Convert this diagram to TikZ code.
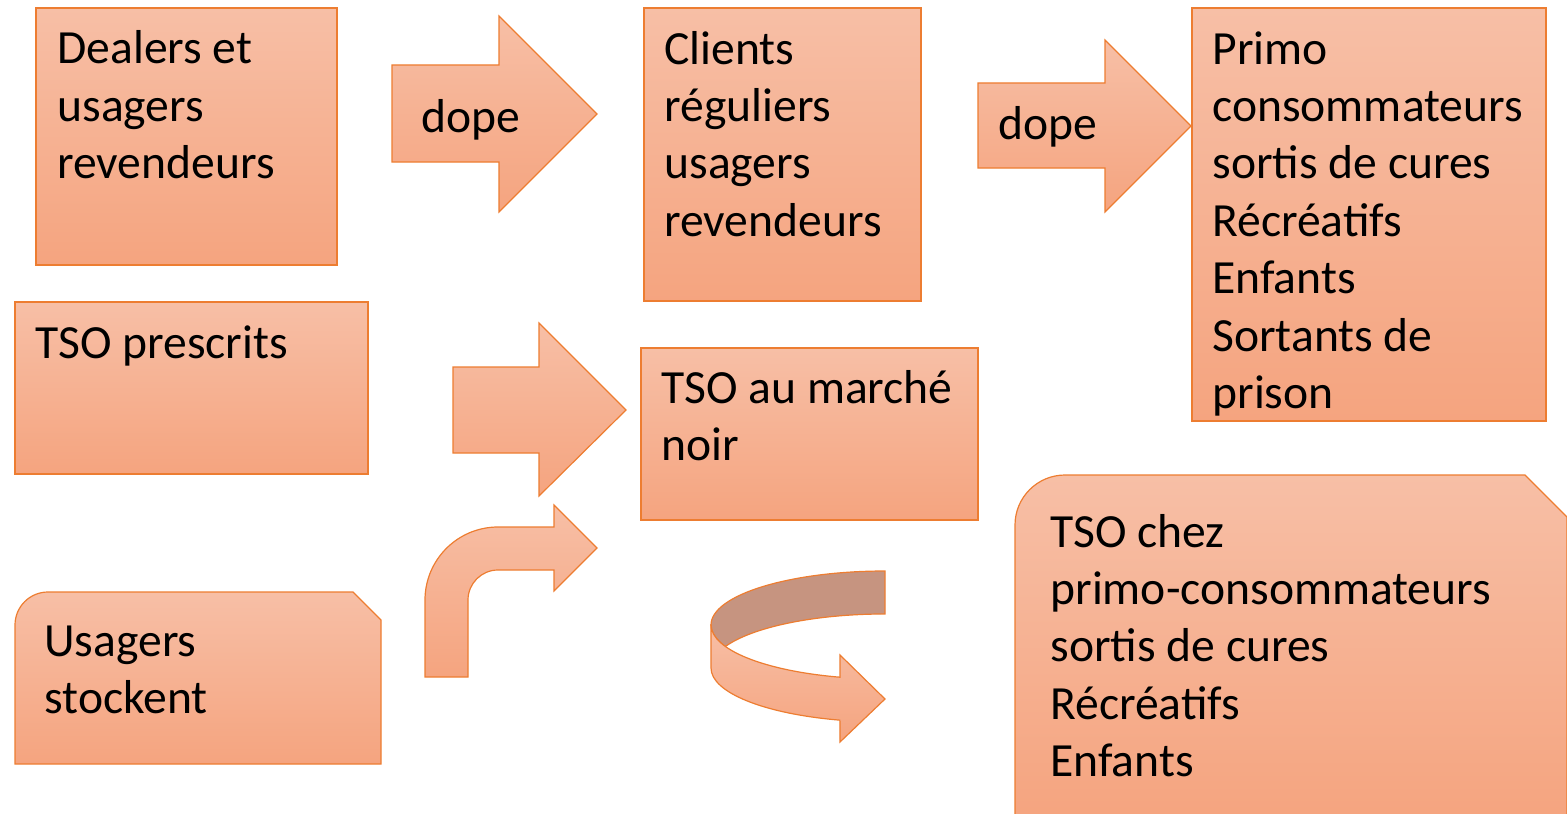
\documentclass[tikz,border=0pt]{standalone}
\usepackage{fontspec}
\setmainfont{Carlito}
\definecolor{boxline}{HTML}{ED7D31}
\definecolor{boxtop}{HTML}{F7BFA6}
\definecolor{boxbottom}{HTML}{F5A47F}
\definecolor{backside}{HTML}{C69480}
\begin{document}
\begin{tikzpicture}[x=0.5pt,y=-0.5pt]

    \tikzset{
      block/.style={
        draw=boxline,
        line width=0.6pt,
        top color=boxtop,
        bottom color=boxbottom,
      },
      boxtext/.style={
        anchor=base west,
        align=left,
        inner sep=0pt,
        font=\fontsize{23.8}{28.7}\selectfont,
      },
    }
    \clip (0,0) rectangle (1567,813);
    % boxes
	\draw[block] (36,8) rectangle (337,265);
	\draw[block] (644,8) rectangle (921,301);
	\draw[block] (1192,8) rectangle (1546,421);
	\draw[block] (15,302) rectangle (368,474);
	\draw[block] (641,348) rectangle (978,520);
	\draw[block] (15,764) -- (15,625) arc[start angle=180, end angle=270, radius=33] -- (353,592) -- (381,620) -- (381,764) -- cycle;
	\draw[block] (1015,820) -- (1015,525) arc[start angle=180, end angle=270, radius=50] -- (1525,475) -- (1567,517) -- (1567,820) -- cycle;
    % arrows
	\draw[block] (392,65) -- (499,65) -- (499,16) -- (597,114) -- (499,212) -- (499,162) -- (392,162) -- cycle;
	\draw[block] (978,83) -- (1105,83) -- (1105,40) -- (1191,126) -- (1105,212) -- (1105,168) -- (978,168) -- cycle;
	\draw[block] (453,367) -- (539,367) -- (539,323) -- (626,410) -- (539,496) -- (539,453) -- (453,453) -- cycle;
	\draw[block] (425,677) -- (425,600) arc[start angle=180, end angle=270, radius=73] -- (554,527) -- (554,505) -- (597,548) -- (554,591) -- (554,570) -- (498,570) arc[start angle=270, end angle=180, radius=30] -- (468,677) -- cycle;
	\draw[draw=boxline, line width=0.6pt, fill=backside] (885,571) arc[start angle=-90, end angle=-180, x radius=174, y radius=54] arc[start angle=180, end angle=156.55, x radius=174, y radius=54] arc[start angle=-156.55, end angle=-90, x radius=174, y radius=54] -- cycle;
	\draw[block] (711,625) -- (711,668) arc[start angle=180, end angle=105.03, x radius=174, y radius=54] -- (840,742) -- (885,699) -- (840,655) -- (840,677.2) arc[start angle=105.03, end angle=180, x radius=174, y radius=54] -- cycle;
    % texts (anchored at the last line)
	\draw (57,178.8) node[boxtext] (dealers) {Dealers et\\usagers\\revendeurs};
	\draw (421,133) node[boxtext] (dopeA) {dope};
	\draw (664,236.2) node[boxtext] (clients) {Clients\\réguliers\\usagers\\revendeurs};
	\draw (998,140) node[boxtext] (dopeB) {dope};
	\draw (1212,408.4) node[boxtext] (primo) {Primo\\consommateurs\\sortis de cures\\Récréatifs\\Enfants\\Sortants de\\prison};
	\draw (35,358) node[boxtext] (prescrits) {TSO prescrits};
	\draw (661,460.4) node[boxtext] (marche) {TSO au marché\\noir};
	\draw (44,713.4) node[boxtext] (stockent) {Usagers\\stockent};
	\draw (1050,776.6) node[boxtext] (chez) {TSO chez\\primo-consommateurs\\sortis de cures\\Récréatifs\\Enfants};

\end{tikzpicture}
\end{document}
